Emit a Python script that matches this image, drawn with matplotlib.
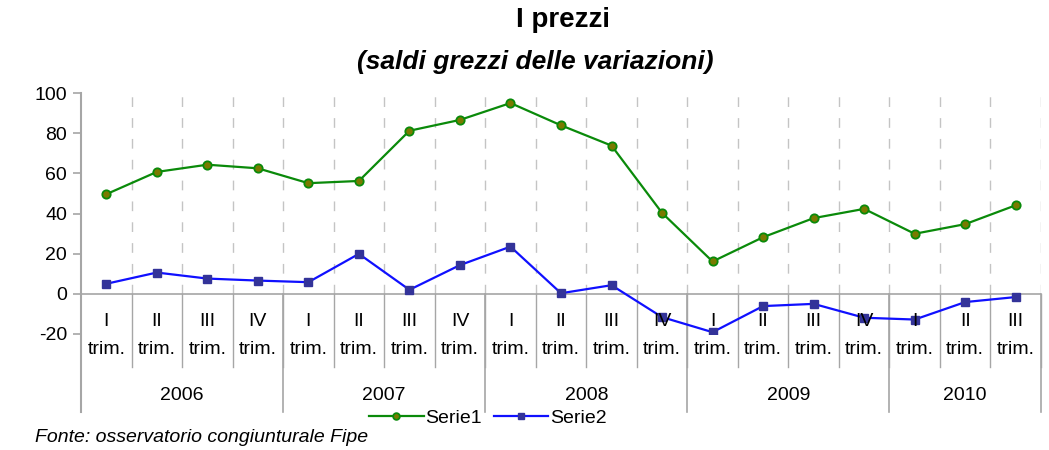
import matplotlib
matplotlib.use("Agg")
import matplotlib.pyplot as plt
import matplotlib.transforms as mtransforms

plt.rcParams['font.family'] = ['Liberation Sans', 'DejaVu Sans']
plt.rcParams['axes.unicode_minus'] = False

quarters = ["I", "II", "III", "IV", "I", "II", "III", "IV", "I", "II", "III", "IV",
            "I", "II", "III", "IV", "I", "II", "III"]
years = ["2006", "2007", "2008", "2009", "2010"]
year_counts = [4, 4, 4, 4, 3]
serie1 = [49.6, 60.7, 64.3, 62.5, 55.1, 56.2, 81.2, 86.6, 95.0, 83.9, 73.8, 40.3,
          16.1, 28.2, 37.7, 42.3, 29.9, 34.7, 44.1]
serie2 = [5.0, 10.6, 7.6, 6.6, 5.8, 19.9, 2.0, 14.3, 23.5, 0.3, 4.3, -11.6,
          -19.1, -6.1, -5.0, -11.9, -12.8, -4.1, -1.6]

W, H = 1049, 450
fig = plt.figure(figsize=(W / 100, H / 100), dpi=100)
L, R, T, B = 81, 1041, 93, 334
ax = fig.add_axes([L / W, 1 - B / H, (R - L) / W, (B - T) / H])

n = len(quarters)
xs = [i + 0.5 for i in range(n)]
ax.set_xlim(0, n)
ax.set_ylim(-20, 100)

grey = "#a6a6a6"
# dashed vertical gridlines
for b in range(1, n + 1):
    ax.plot([b, b], [0, 100], color="#c4c4c4", lw=1.0, ls=(0, (7, 8)), zorder=1)

ax.plot(xs, serie1, color="#0a8a0a", lw=1.6, marker="o", ms=6,
        mfc="#7a7a00", mec="#0a8a0a", mew=1.3, zorder=3, label="Serie1")
ax.plot(xs, serie2, color="#1010ff", lw=1.6, marker="s", ms=5.5,
        mfc="#333399", mec="#333399", zorder=3, label="Serie2")

for s in ["top", "right", "bottom", "left"]:
    ax.spines[s].set_visible(False)
ax.set_xticks([])
ax.set_yticks([-20, 0, 20, 40, 60, 80, 100])
ax.tick_params(axis='y', length=6, width=1.2, color=grey, labelsize=14, pad=4)

# horizontal axis at 0
ax.axhline(0, color=grey, lw=1.2, zorder=2)

tr = mtransforms.blended_transform_factory(ax.transData, fig.transFigure)
def fy(py):
    return 1 - py / H

# left axis line extended down
ax.plot([0, 0], [fy(T), fy(412)], transform=tr, color=grey, lw=1.5, clip_on=False, zorder=2)

# quarter separators
for b in range(1, n + 1):
    ax.plot([b, b], [fy(294), fy(367)], transform=tr, color=grey, lw=1.0, clip_on=False)
# year separators
pos = 0
for c in year_counts:
    pos += c
    ax.plot([pos, pos], [fy(294), fy(412)], transform=tr, color=grey, lw=1.2, clip_on=False)

for x, q in zip(xs, quarters):
    ax.text(x, fy(322), q, transform=tr, ha="center", va="center", fontsize=14)
    ax.text(x, fy(350), "trim.", transform=tr, ha="center", va="center", fontsize=14)

start = 0
for y, c in zip(years, year_counts):
    ax.text(start + c / 2, fy(395), y, transform=tr, ha="center", va="center", fontsize=14)
    start += c

fig.text(563 / W, fy(20), "I prezzi", ha="center", va="center", fontsize=20, fontweight="bold")
fig.text(535 / W, fy(62), "(saldi grezzi delle variazioni)", ha="center", va="center",
         fontsize=19, fontweight="bold", fontstyle="italic")

fig.legend(loc="center", bbox_to_anchor=(488 / W, fy(418)), ncol=2, frameon=False,
           fontsize=14, handlelength=2.8, columnspacing=0.6, handletextpad=0.1,
           borderaxespad=0, borderpad=0, markerscale=0.8)

fig.text(35 / W, fy(437), "Fonte: osservatorio congiunturale Fipe", ha="left", va="center",
         fontsize=14, fontstyle="italic")

fig.savefig("out.png", dpi=100)
